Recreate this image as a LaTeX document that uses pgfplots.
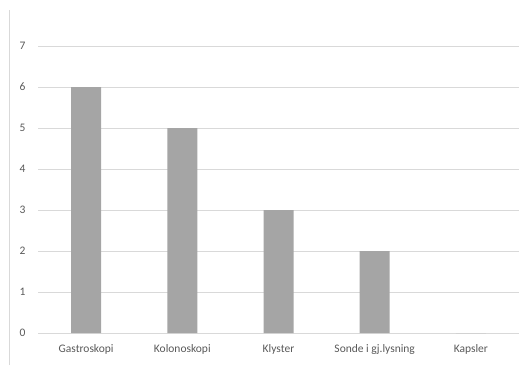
\documentclass[border=0pt]{standalone}
\usepackage{pgfplots}
\pgfplotsset{compat=1.18}
\usepackage{fontspec}
\setmainfont{Carlito}
\definecolor{bargray}{HTML}{A5A5A5}
\definecolor{gridgray}{HTML}{D9D9D9}
\definecolor{txtgray}{HTML}{595959}
\begin{document}
\begin{tikzpicture}[x=1pt,y=1pt]
\path[use as bounding box] (0,0) rectangle (519,375);
\draw[gridgray, line width=1pt] (9,10) -- (9,365);
\begin{axis}[
  at={(38pt,42pt)}, anchor=south west,
  scale only axis, width=481pt, height=287pt,
  ymin=0, ymax=7, xmin=-0.5, xmax=4.5,
  ytick={0,...,7},
  xtick=data,
  xticklabels={Gastroskopi,Kolonoskopi,Klyster,Sonde i gj.lysning,Kapsler},
  ymajorgrids, grid style={gridgray, line width=1pt},
  axis line style={draw=none},
  major tick length=0pt,
  tick label style={font=\fontsize{11.5}{13}\selectfont, text=txtgray},
  /pgf/number format/assume math mode=true,
  yticklabel style={xshift=-9pt},
  xticklabel style={yshift=-8pt},
  ybar, bar width=30pt,
]
\addplot[fill=bargray, draw=none] coordinates {(0,6) (1,5) (2,3) (3,2) (4,0)};
\end{axis}
\end{tikzpicture}
\end{document}
